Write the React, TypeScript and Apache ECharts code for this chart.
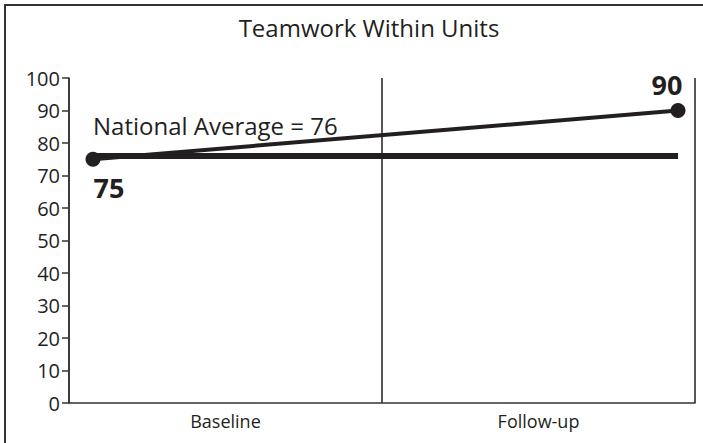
import React, { useEffect, useRef } from "react";
import * as echarts from "echarts";

const title = "Teamwork Within Units";
const categories = ["Baseline", "Follow-up"];
const scores = [75, 90];
const nationalAverage = 76;
const avgValues = [nationalAverage, nationalAverage];
const yMin = 0;
const yMax = 100;
const yInterval = 10;

const INK = "#231f20";
const FONT = "'Open Sans', 'Noto Sans', sans-serif";

export default function App() {
  const ref = useRef<HTMLDivElement>(null);
  useEffect(() => {
    if (!ref.current) return;
    const chart = echarts.init(ref.current, null, { renderer: "svg" });
    chart.setOption({
      animation: false,
      backgroundColor: "#ffffff",
      title: {
        text: title,
        left: 364,
        top: 10,
        textAlign: "center",
        textStyle: { fontFamily: FONT, fontSize: 24, fontWeight: "normal", color: INK },
      },
      graphic: [
        {
          type: "rect",
          shape: { x: 5, y: 5, width: 720, height: 460 },
          style: { fill: "none", stroke: "#333", lineWidth: 2 },
          silent: true,
        },
      ],
      grid: [
        { left: 69, right: 8, top: 78, bottom: 40, containLabel: false },
        { left: 93, right: 25, top: 78, bottom: 40, containLabel: false },
      ],
      xAxis: [
        {
          type: "category",
          gridIndex: 0,
          data: categories,
          boundaryGap: true,
          axisLine: { lineStyle: { color: "#333", width: 1.5 } },
          axisTick: { show: false },
          axisLabel: { fontFamily: FONT, fontSize: 18, color: INK, margin: 9 },
          splitLine: { show: true, lineStyle: { color: INK, width: 1.5 } },
        },
        {
          type: "category",
          gridIndex: 1,
          data: categories,
          boundaryGap: false,
          show: false,
        },
      ],
      yAxis: [
        {
          type: "value",
          gridIndex: 0,
          min: yMin,
          max: yMax,
          interval: yInterval,
          axisLine: { show: true, lineStyle: { color: "#333", width: 1.5 } },
          axisTick: { show: true, length: 7, lineStyle: { color: "#333", width: 1.5 } },
          axisLabel: { fontFamily: FONT, fontSize: 20, color: INK, margin: 9 },
          splitLine: { show: false },
        },
        {
          type: "value",
          gridIndex: 1,
          min: yMin,
          max: yMax,
          interval: yInterval,
          show: false,
          splitLine: { show: false },
        },
      ],
      series: [
        {
          type: "line",
          xAxisIndex: 1,
          yAxisIndex: 1,
          data: avgValues,
          showSymbol: true,
          symbol: "circle",
          symbolSize: 0.1,
          lineStyle: { color: INK, width: 6 },
          itemStyle: { color: INK },
          label: {
            show: true,
            formatter: (p: any) => (p.dataIndex === 0 ? `National Average = ${nationalAverage}` : ""),
            position: "top",
            align: "left",
            distance: 18,
            fontFamily: FONT,
            fontSize: 24,
            color: INK,
          },
          z: 2,
        },
        {
          type: "line",
          xAxisIndex: 1,
          yAxisIndex: 1,
          data: scores.map((v, i) => ({
            value: v,
            label:
              i === 0
                ? { position: "bottom", offset: [16, 2] }
                : { position: "top", offset: [-11, 0] },
          })),
          symbol: "circle",
          symbolSize: 15,
          lineStyle: { color: INK, width: 4 },
          itemStyle: { color: INK },
          label: {
            show: true,
            fontFamily: FONT,
            fontSize: 27,
            fontWeight: "bold",
            color: INK,
          },
          z: 3,
        },
      ],
    });
    return () => chart.dispose();
  }, []);
  return <div ref={ref} style={{ width: 703, height: 443, position: "fixed", left: 0, top: 0 }} />;
}
